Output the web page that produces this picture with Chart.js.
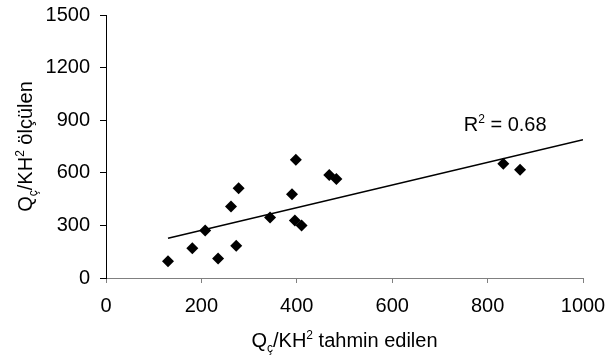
<!DOCTYPE html>
<html>
<head>
<meta charset="utf-8">
<script src="https://cdn.jsdelivr.net/npm/chart.js@4.4.1/dist/chart.umd.min.js"></script>
<style>
  html, body { margin: 0; padding: 0; background: #fff; }
  #wrap { width: 613px; height: 358px; position: relative; }
</style>
</head>
<body>
<div id="wrap"><canvas id="c"></canvas></div>
<script>
// ── Data ──────────────────────────────────────────────────────────────
const predicted = [130, 181, 208, 235, 262, 273, 278, 344, 390, 398, 396, 410, 468, 483, 833, 868];
const measured  = [ 96, 170, 271, 111, 408, 184, 512, 345, 478, 674, 328, 299, 588, 565, 651, 617];
const trendX = [130, 1000];
const trendY = [227, 788];
const xTicks = [0, 200, 400, 600, 800, 1000];
const yTicks = [0, 300, 600, 900, 1200, 1500];
const r2Label = '0.68';

const FONT = '"Liberation Sans", Arial, sans-serif';
const FS = 20;
const FS_SMALL = 12;

// measures/draws "Qç/KH² <rest>" with ç as subscript and 2 as superscript
function richParts(ctx, rest) {
  const parts = [
    { t: 'Q', dy: 0, s: FS },
    { t: 'ç', dy: 5, s: FS_SMALL },
    { t: '/KH', dy: 0, s: FS },
    { t: '2', dy: -8, s: FS_SMALL },
    { t: ' ' + rest, dy: 0, s: FS }
  ];
  let w = 0;
  parts.forEach(p => { ctx.font = p.s + 'px ' + FONT; p.w = ctx.measureText(p.t).width; w += p.w; });
  return { parts, w };
}
function drawRich(ctx, rest, cx, cy) {
  const r = richParts(ctx, rest);
  let x = cx - r.w / 2;
  ctx.textBaseline = 'alphabetic';
  ctx.textAlign = 'left';
  r.parts.forEach(p => {
    ctx.font = p.s + 'px ' + FONT;
    ctx.fillText(p.t, x, cy + p.dy);
    x += p.w;
  });
}

const textPlugin = {
  id: 'texts',
  afterDraw(chart) {
    const ctx = chart.ctx;
    const xs = chart.scales.x, ys = chart.scales.y;
    ctx.save();
    ctx.fillStyle = '#000';
    // x title
    drawRich(ctx, 'tahmin edilen', (xs.left + xs.right) / 2, 347);
    // y title
    ctx.save();
    ctx.translate(32, (ys.top + ys.bottom) / 2);
    ctx.rotate(-Math.PI / 2);
    drawRich(ctx, 'ölçülen', 0, 0);
    ctx.restore();
    // R² label
    const lx = xs.getPixelForValue(750), ly = ys.getPixelForValue(840);
    ctx.textAlign = 'left';
    ctx.textBaseline = 'alphabetic';
    ctx.font = FS + 'px ' + FONT;
    ctx.fillText('R', lx, ly);
    let x = lx + ctx.measureText('R').width;
    ctx.font = FS_SMALL + 'px ' + FONT;
    ctx.fillText('2', x, ly - 8);
    x += ctx.measureText('2').width;
    ctx.font = FS + 'px ' + FONT;
    ctx.fillText(' = ' + r2Label, x, ly);
    ctx.restore();
  }
};

new Chart(document.getElementById('c'), {
  type: 'scatter',
  data: {
    datasets: [
      {
        label: 'Ölçülen',
        data: predicted.map((v, i) => ({ x: v, y: measured[i] })),
        pointStyle: 'rectRot',
        pointRadius: 6,
        backgroundColor: '#000',
        borderColor: '#000',
        borderWidth: 0
      },
      {
        label: 'Trend',
        data: trendX.map((v, i) => ({ x: v, y: trendY[i] })),
        showLine: true,
        borderColor: '#000',
        borderWidth: 1.5,
        pointRadius: 0,
        fill: false
      }
    ]
  },
  options: {
    responsive: true,
    maintainAspectRatio: false,
    animation: false,
    layout: { padding: { left: 0, right: 30, top: 15, bottom: 0 } },
    plugins: { legend: { display: false }, tooltip: { enabled: false } },
    scales: {
      x: {
        type: 'linear', min: 0, max: 1000,
        afterBuildTicks: s => { s.ticks = xTicks.map(v => ({ value: v })); },
        afterFit: s => { s.height = 80; s.paddingLeft = 0; s.paddingRight = 0; },
        ticks: { color: '#000', font: { family: FONT, size: FS }, padding: 11, maxRotation: 0,
                 callback: v => String(v) },
        grid: { drawOnChartArea: false, drawTicks: true, tickLength: 5, color: '#808080' },
        border: { display: true, color: '#808080', width: 1 }
      },
      y: {
        type: 'linear', min: 0, max: 1500,
        afterBuildTicks: s => { s.ticks = yTicks.map(v => ({ value: v })); },
        afterFit: s => { s.width = 106; s.paddingTop = 0; s.paddingBottom = 0; },
        ticks: { color: '#000', font: { family: FONT, size: FS }, padding: 10,
                 callback: v => String(v) },
        grid: { drawOnChartArea: false, drawTicks: true, tickLength: 6, color: '#000' },
        border: { display: true, color: '#000', width: 1 }
      }
    }
  },
  plugins: [textPlugin]
});
</script>
</body>
</html>
